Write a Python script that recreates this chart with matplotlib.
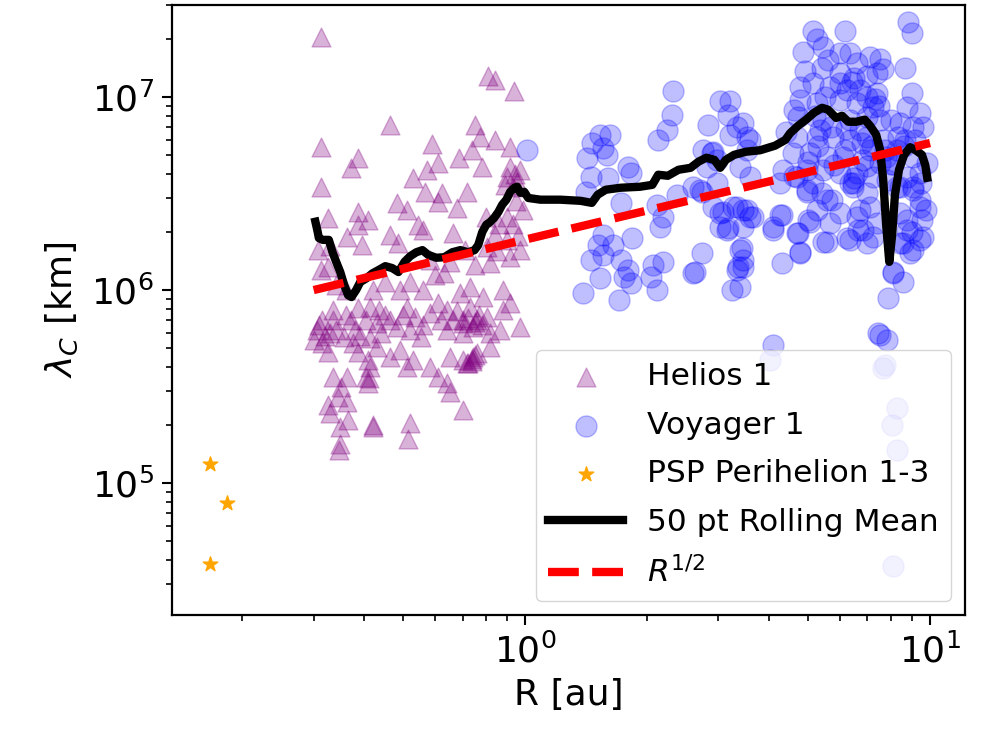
import matplotlib
matplotlib.use("Agg")
import matplotlib.pyplot as plt
from matplotlib.ticker import NullFormatter, LogLocator
import numpy as np

# ---------------- data ----------------
# Helios 1: heliocentric distance [au] and correlation length [10^6 km]
helios_r = [0.312, 0.811, 0.843, 0.940, 0.464, 0.753, 0.312, 0.589, 0.774, 0.843,
            0.385, 0.370, 0.684, 0.740, 0.918, 0.607, 0.573, 0.783, 0.312, 0.529,
            0.566, 0.624, 0.719, 0.918, 0.972, 0.903, 0.934, 0.483, 0.511, 0.607,
            0.679, 0.385, 0.325, 0.408, 0.989, 0.903, 0.312, 0.325, 0.363, 0.385,
            0.396, 0.464, 0.486, 0.560, 0.544, 0.664, 0.805, 0.903, 0.972, 0.918,
            0.820, 0.491, 0.560, 0.628, 0.731, 0.691, 0.787, 0.883, 0.334, 0.314,
            0.305, 0.330, 0.314, 0.385, 0.414, 0.434, 0.370, 0.403, 0.431, 0.511,
            0.535, 0.483, 0.464, 0.607, 0.642, 0.664, 0.703, 0.642, 0.744, 0.731,
            0.805, 0.883, 0.918, 0.820, 0.972, 0.868, 0.356, 0.376, 0.414, 0.431,
            0.551, 0.385, 0.325, 0.464, 0.491, 0.529, 0.511, 0.408, 0.414, 0.582,
            0.607, 0.642, 0.653, 0.653, 0.703, 0.744, 0.761, 0.719, 0.820, 0.334,
            0.363, 0.350, 0.408, 0.403, 0.344, 0.325, 0.363, 0.330, 0.703, 0.365,
            0.349, 0.421, 0.520, 0.514, 0.346, 0.349, 0.307, 0.945, 0.955, 0.890,
            0.753, 0.710, 0.582, 0.340, 0.843, 0.410, 0.420, 0.720, 0.740, 0.760,
            0.700, 0.310, 0.320, 0.335, 0.300, 0.340, 0.360, 0.380, 0.390, 0.440,
            0.450, 0.500, 0.520, 0.560, 0.580, 0.620, 0.680, 0.700, 0.720, 0.750,
            0.770, 0.780, 0.740, 0.750, 0.950, 0.930, 0.960, 0.860, 0.850, 0.800,
            0.650, 0.600, 0.520, 0.450, 0.420, 0.360, 0.330]
helios_lam = [20.6, 12.8, 12.3, 10.7, 7.2, 7.2, 5.5, 5.7, 6.2, 6.0,
              4.85, 4.3, 4.85, 5.3, 5.5, 4.57, 4.2, 4.35, 3.43, 3.82,
              3.23, 3.19, 3.23, 4.35, 4.2, 3.86, 3.43, 2.83, 2.6, 2.87,
              2.67, 2.54, 2.37, 2.31, 2.6, 2.39, 1.27, 1.32, 1.88, 2.18,
              1.71, 1.93, 1.75, 2.05, 2.18, 1.98, 1.67, 1.82, 1.61, 1.48,
              1.38, 1.0, 1.0, 1.22, 1.04, 0.964, 0.92, 1.0, 0.787, 0.699,
              0.62, 0.598, 0.531, 0.806, 0.816, 0.787, 0.699, 0.699, 0.674, 0.806,
              0.724, 0.643, 0.699, 0.856, 0.787, 0.699, 0.674, 0.62, 0.643, 0.816,
              0.724, 0.787, 0.856, 0.598, 0.643, 0.62, 0.57, 0.531, 0.563, 0.506,
              0.57, 0.476, 0.476, 0.449, 0.488, 0.433, 0.398, 0.433, 0.398, 0.398,
              0.353, 0.329, 0.295, 0.449, 0.433, 0.449, 0.471, 0.418, 0.506, 0.353,
              0.353, 0.313, 0.329, 0.353, 0.278, 0.253, 0.262, 0.230, 0.238, 0.211,
              0.194, 0.194, 0.204, 0.170, 0.148, 0.160, 1.61, 4.0, 3.65, 3.5,
              1.35, 1.61, 1.43, 1.06, 1.93, 0.35, 0.20, 0.42, 0.44, 0.70,
              0.70, 0.66, 0.58, 0.70, 0.55, 0.62, 0.74, 0.62, 0.58, 0.60,
              0.74, 0.74, 0.62, 0.66, 0.76, 0.70, 0.78, 0.60, 0.72, 0.68,
              0.74, 0.66, 0.43, 0.46, 2.9, 2.2, 1.9, 2.2, 1.6, 2.4,
              1.4, 1.2, 1.1, 1.1, 1.0, 1.0, 1.7]

# Voyager 1
voyager_r = [1.01, 2.32, 3.03, 3.21, 2.31, 2.24, 2.13, 2.83, 3.17, 3.34,
             3.21, 3.59, 1.53, 1.62, 1.46, 1.56, 1.42, 1.59, 1.79, 1.82,
             1.45, 1.60, 1.41, 2.75, 2.91, 2.98, 2.81, 3.40, 3.59, 2.74,
             2.60, 2.37, 1.72, 2.12, 2.19, 2.15, 2.91, 3.03, 3.26, 3.45,
             3.59, 3.15, 3.03, 1.56, 1.84, 1.51, 1.65, 1.45, 1.56, 1.72,
             1.79, 1.75, 1.82, 1.53, 1.39, 1.70, 2.07, 2.19, 2.04, 2.12,
             2.60, 2.74, 3.40, 3.45, 3.34, 3.24, 5.14, 6.17, 8.83, 9.03,
             4.86, 5.44, 5.26, 5.99, 6.35, 7.11, 7.53, 8.67, 4.91, 5.41,
             5.99, 6.61, 6.99, 7.40, 7.66, 4.78, 5.14, 5.66, 6.24, 6.71,
             7.40, 9.03, 8.77, 9.45, 4.78, 5.26, 5.99, 6.61, 7.23, 4.72,
             5.44, 6.35, 6.99, 7.53, 8.43, 9.08, 9.61, 3.45, 3.53, 3.53,
             4.70, 5.26, 5.76, 6.35, 6.99, 7.66, 8.34, 4.59, 5.06, 5.57,
             6.10, 6.83, 7.53, 8.29, 9.08, 9.84, 4.34, 4.97, 5.44, 5.99,
             6.61, 7.23, 7.83, 8.77, 9.45, 4.26, 5.14, 6.35, 8.43, 4.97,
             5.73, 6.46, 6.99, 8.29, 9.08, 9.45, 3.53, 3.65, 3.45, 4.31,
             4.10, 4.70, 5.26, 5.06, 5.66, 5.57, 6.24, 6.61, 6.83, 6.99,
             7.23, 7.40, 8.43, 8.77, 8.43, 9.08, 9.45, 9.55, 3.45, 3.40,
             4.78, 4.31, 8.11, 8.58, 7.88, 7.53, 7.83, 4.10, 4.03, 7.66,
             8.29, 8.06, 8.29, 8.11, 2.90, 2.70, 2.98, 3.08, 3.34, 3.17,
             4.26, 4.10, 4.72, 5.00, 5.57, 3.43, 3.36, 2.63, 4.78, 5.44,
             4.70, 4.97, 6.46, 6.71, 7.11, 6.35, 6.64, 9.08, 9.45, 8.77,
             9.61, 8.93, 8.58, 8.11, 7.44, 7.74, 6.71, 7.11, 6.17, 5.34,
             5.80, 7.74, 7.99, 8.67, 6.40, 7.30, 5.60, 8.10, 5.50, 6.00,
             6.50, 7.00, 7.50, 5.20, 5.70, 6.20, 6.80, 7.20, 7.80, 5.30,
             5.00, 6.50, 7.00, 8.00, 8.60, 9.20, 9.50, 9.80, 9.00, 6.00,
             5.40, 4.60, 4.40, 4.60]
voyager_lam = [5.3, 10.7, 9.5, 9.5, 8.11, 6.78, 6.0, 7.2, 8.11, 7.03,
               6.38, 6.0, 6.38, 6.38, 5.8, 5.47, 4.85, 5.02, 4.35, 4.05,
               3.86, 3.82, 3.23, 5.3, 5.21, 4.73, 4.35, 4.35, 3.86, 3.23,
               3.43, 3.12, 2.83, 2.77, 2.39, 2.12, 2.7, 2.51, 2.7, 2.6,
               2.39, 2.05, 2.12, 1.93, 1.86, 1.71, 1.71, 1.43, 1.52, 1.43,
               1.27, 1.17, 1.09, 1.15, 0.964, 0.887, 1.35, 1.40, 1.17, 1.0,
               1.22, 1.56, 1.61, 1.43, 1.27, 1.0, 21.9, 21.9, 24.4, 21.6,
               17.2, 18.1, 19.9, 17.0, 17.0, 16.2, 15.7, 14.2, 13.6, 14.2,
               13.4, 15.1, 12.8, 13.4, 13.9, 11.3, 11.9, 11.3, 10.9, 10.9,
               10.5, 10.5, 8.93, 8.3, 9.7, 9.36, 9.7, 9.36, 8.93, 7.92,
               7.64, 7.64, 7.92, 7.64, 7.38, 7.03, 7.03, 7.38, 6.24, 5.3,
               6.24, 6.24, 6.24, 6.0, 6.24, 6.0, 6.24, 5.15, 5.15, 4.91,
               4.91, 4.73, 4.57, 5.3, 4.91, 4.57, 4.2, 4.2, 4.2, 4.05,
               4.05, 3.86, 3.73, 3.86, 4.05, 3.6, 3.6, 3.6, 3.43, 3.23,
               2.94, 3.43, 3.19, 3.43, 3.31, 2.94, 2.6, 2.39, 2.12, 2.45,
               2.05, 1.98, 2.6, 2.26, 2.23, 1.78, 1.86, 2.39, 2.05, 1.75,
               1.88, 2.23, 2.51, 2.05, 1.75, 1.61, 1.82, 2.31, 1.32, 1.04,
               1.57, 1.38, 1.24, 1.10, 0.908, 0.584, 0.55, 0.518, 0.433, 0.394,
               0.244, 0.199, 0.148, 0.0373, 5.15, 3.31, 3.6, 2.54, 2.7, 2.1,
               2.45, 2.12, 1.98, 2.3, 2.94, 1.65, 1.32, 1.24, 1.56, 1.78,
               3.86, 3.31, 3.6, 2.6, 2.7, 1.82, 2.05, 3.43, 2.7, 2.3,
               1.88, 1.56, 1.75, 1.22, 0.6, 0.41, 6.78, 5.3, 5.3, 6.78,
               4.45, 5.3, 7.64, 6.0, 12.0, 9.8, 15.5, 4.5, 10.0, 11.8,
               12.5, 10.0, 9.0, 8.0, 7.0, 6.8, 5.8, 5.6, 4.9, 5.6,
               4.6, 3.8, 4.4, 4.5, 5.6, 6.0, 3.6, 2.6, 2.0, 2.5,
               3.2, 3.9, 6.6, 8.6]

# Parker Solar Probe perihelia 1-3
psp_r = [0.166, 0.183, 0.166]
psp_lam = [0.126, 0.079, 0.0382]

# 50-point rolling mean (traced)
roll_r = [0.303, 0.307, 0.309, 0.316, 0.327, 0.334, 0.341, 0.349, 0.357, 0.365,
          0.372, 0.382, 0.391, 0.405, 0.419, 0.434, 0.451, 0.469, 0.486, 0.503,
          0.520, 0.538, 0.557, 0.576, 0.603, 0.631, 0.660, 0.691, 0.723, 0.749,
          0.765, 0.783, 0.801, 0.820, 0.838, 0.858, 0.877, 0.898, 0.918, 0.940,
          0.955, 0.972, 0.994, 1.017, 1.09, 1.22, 1.37, 1.46, 1.51, 1.58,
          1.72, 1.92, 2.06, 2.13, 2.25, 2.39, 2.56, 2.68, 2.80, 2.93,
          3.03, 3.13, 3.28, 3.51, 3.80, 4.14, 4.39, 4.51, 4.72, 4.94,
          5.17, 5.41, 5.60, 5.86, 6.06, 6.28, 6.58, 6.90, 7.11, 7.36,
          7.53, 7.66, 7.79, 7.93, 8.06, 8.19, 8.38, 8.63, 8.93, 9.22,
          9.55, 9.73, 9.84]
roll_lam = [2.26, 2.0, 1.86, 1.82, 1.82, 1.57, 1.40, 1.24, 1.06, 0.94,
            0.92, 1.0, 1.10, 1.15, 1.22, 1.27, 1.33, 1.30, 1.24, 1.40,
            1.50, 1.57, 1.61, 1.52, 1.47, 1.48, 1.57, 1.61, 1.57, 1.61,
            1.71, 2.0, 2.18, 2.26, 2.37, 2.54, 2.77, 2.94, 3.23, 3.39,
            3.43, 3.19, 3.23, 3.0, 2.94, 2.94, 2.9, 2.83, 3.12, 3.31,
            3.39, 3.43, 3.51, 3.96, 3.91, 4.2, 4.3, 4.63, 4.85, 4.73,
            4.3, 4.73, 5.02, 5.21, 5.3, 5.6, 6.0, 6.5, 7.1, 7.64,
            8.3, 8.8, 8.6, 7.8, 8.0, 7.45, 7.45, 7.64, 7.1, 6.38,
            5.3, 3.73, 2.18, 1.40, 1.93, 3.12, 4.2, 5.02, 5.5, 5.3,
            5.02, 4.45, 3.82]

# R^(1/2) reference line endpoints
fit_r = [0.3, 10.0]
fit_lam = [1.0, 5.78]

scale = 1e6  # 10^6 km

# ---------------- figure ----------------
fig = plt.figure(figsize=(9.85, 7.37), dpi=100)
ax = fig.add_axes([0.1746, 0.1655, 0.8051, 0.8277])

ax.scatter(helios_r, np.array(helios_lam) * scale, marker='^', s=185,
           color='purple', alpha=0.3, label='Helios 1', linewidths=1)
ax.scatter(voyager_r, np.array(voyager_lam) * scale, marker='o', s=230,
           color='blue', alpha=0.25, label='Voyager 1', linewidths=1)
ax.scatter(psp_r, np.array(psp_lam) * scale, marker='*', s=120,
           color='orange', label='PSP Perihelion 1-3')
ax.plot(roll_r, np.array(roll_lam) * scale, color='black', lw=6,
        label='50 pt Rolling Mean')
ax.plot(fit_r, np.array(fit_lam) * scale, color='red', lw=6, ls='--',
        label=r'$R^{1/2}$')

ax.set_xscale('log')
ax.set_yscale('log')
ax.set_xlim(0.134, 12.2)
ax.set_ylim(2.07e4, 3.0e7)

ax.xaxis.set_minor_formatter(NullFormatter())
ax.yaxis.set_minor_locator(LogLocator(base=10, subs=np.arange(2, 10), numticks=20))
ax.yaxis.set_minor_formatter(NullFormatter())

ax.tick_params(which='major', length=7, width=1.5, labelsize=26, pad=6)
ax.tick_params(which='minor', length=4, width=1.2)
for sp in ax.spines.values():
    sp.set_linewidth(1.6)

ax.set_xlabel('R [au]', fontsize=26, labelpad=6)
ax.set_ylabel(r'$\lambda_C$ [km]', fontsize=26, labelpad=8)

ax.legend(loc='lower right', fontsize=22.5, handlelength=2.4,
          borderaxespad=0.45, labelspacing=0.62, handletextpad=0.75)

fig.savefig('out.png', dpi=100)
